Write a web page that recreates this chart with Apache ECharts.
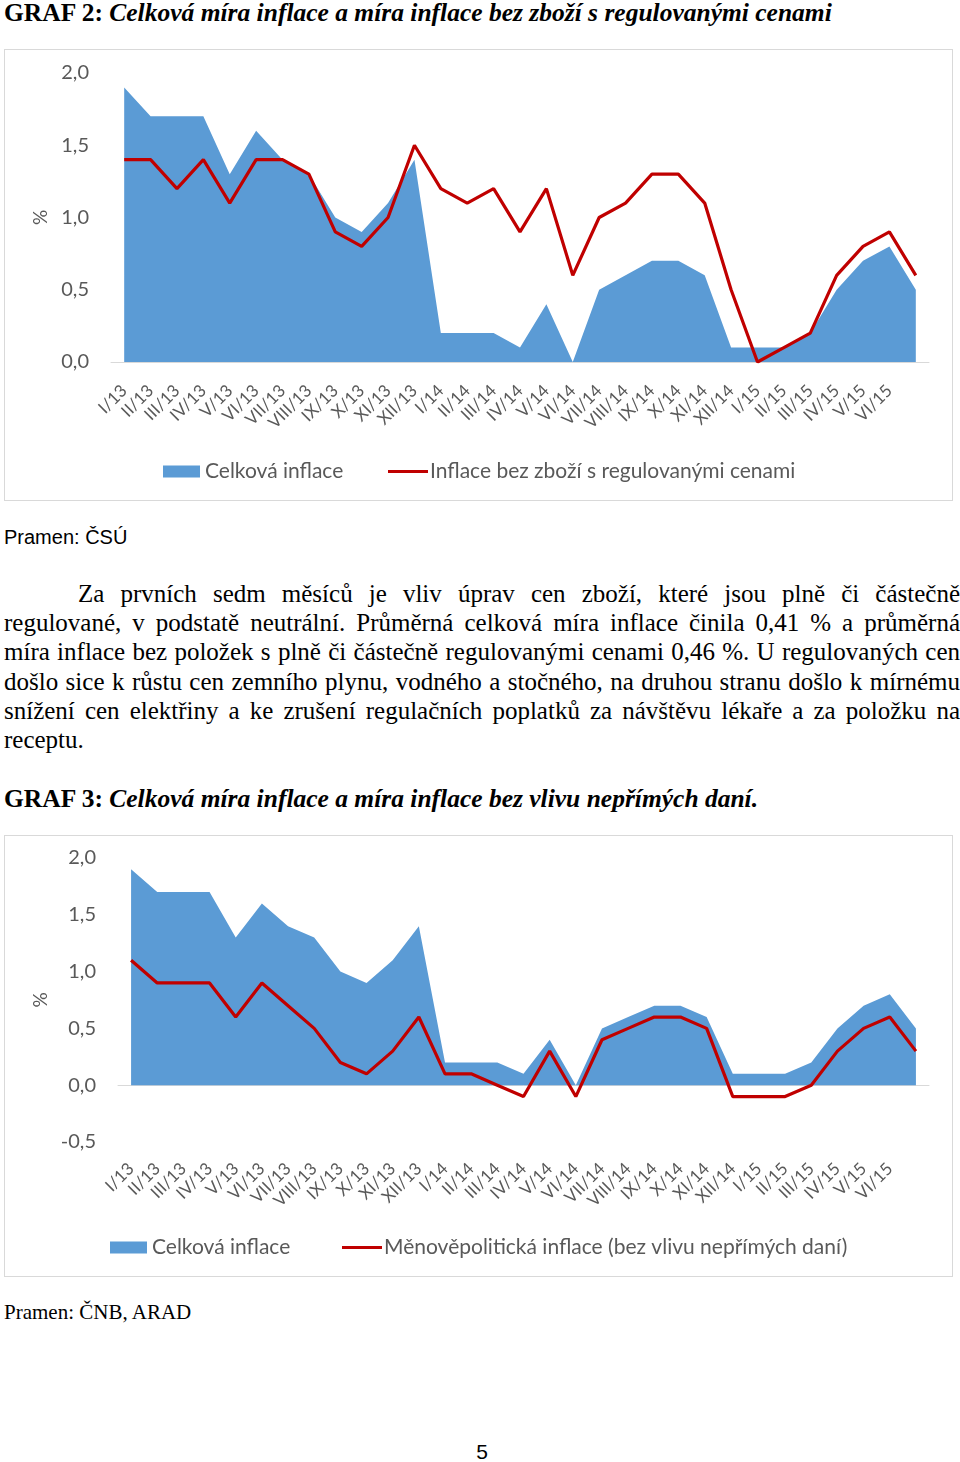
<!DOCTYPE html>
<html>
<head>
<meta charset="utf-8">
<script src="https://cdn.jsdelivr.net/npm/echarts@6/dist/echarts.min.js"></script>
<style>
  html, body { margin: 0; padding: 0; background: #fff; }
  #page { position: relative; width: 960px; height: 1462px; overflow: hidden; background: #fff; }
  .title { position: absolute; left: 4px; font-family: "Liberation Serif", "Times New Roman", serif; font-size: 25.5px; font-weight: bold; white-space: nowrap; color: #000; }
  .title i { font-weight: bold; }
  .box { position: absolute; border: 1px solid #d9d9d9; box-sizing: border-box; }
  .chart { position: absolute; left: 0; top: 0; }
  .src-sans { position: absolute; left: 4px; font-family: "Liberation Sans", Arial, sans-serif; font-size: 20px; color: #000; white-space: nowrap; }
  .src-serif { position: absolute; left: 4px; font-family: "Liberation Serif", "Times New Roman", serif; font-size: 21px; color: #000; white-space: nowrap; }
  .para { position: absolute; left: 4px; width: 956px; font-family: "Liberation Serif", "Times New Roman", serif; font-size: 25px; color: #000; }
  .para div { height: 29.2px; line-height: 29.2px; white-space: nowrap; text-align: justify; text-align-last: justify; }
  .para div.last { text-align-last: left; }
  .pnum { position: absolute; left: 0; width: 964px; text-align: center; font-family: "Liberation Sans", Arial, sans-serif; font-size: 21px; color: #000; }
</style>
</head>
<body>
<div id="page">
  <div class="title" style="top:-2px;">GRAF 2: <i>Celková míra inflace a míra inflace bez zboží s regulovanými cenami</i></div>
  <div class="box" style="left:4px; top:49px; width:949px; height:452px;">
    <div id="c1" class="chart" style="width:947px; height:450px;"></div>
  </div>
  <div class="src-sans" style="top:526px;">Pramen: ČSÚ</div>
  <div class="para" style="top:579px;">
    <div style="padding-left:74px;">Za prvních sedm měsíců je vliv úprav cen zboží, které jsou plně či částečně</div>
    <div>regulované, v podstatě neutrální. Průměrná celková míra inflace činila 0,41 % a průměrná</div>
    <div>míra inflace bez položek s plně či částečně regulovanými cenami 0,46 %. U regulovaných cen</div>
    <div>došlo sice k růstu cen zemního plynu, vodného a stočného, na druhou stranu došlo k mírnému</div>
    <div>snížení cen elektřiny a ke zrušení regulačních poplatků za návštěvu lékaře a za položku na</div>
    <div class="last">receptu.</div>
  </div>
  <div class="title" style="top:784px;">GRAF 3: <i>Celková míra inflace a míra inflace bez vlivu nepřímých daní.</i></div>
  <div class="box" style="left:4px; top:835px; width:949px; height:442px;">
    <div id="c2" class="chart" style="width:947px; height:440px;"></div>
  </div>
  <div class="src-serif" style="top:1300px;">Pramen: ČNB, ARAD</div>
  <div class="pnum" style="top:1440px;">5</div>
</div>
<script>
// Categories (months). The last month (VII/15) carries no label in the reference.
const categories = ['I/13','II/13','III/13','IV/13','V/13','VI/13','VII/13','VIII/13','IX/13','X/13','XI/13','XII/13',
  'I/14','II/14','III/14','IV/14','V/14','VI/14','VII/14','VIII/14','IX/14','X/14','XI/14','XII/14',
  'I/15','II/15','III/15','IV/15','V/15','VI/15',''];

// Celková inflace (both charts)
const celkovaInflace = [1.9,1.7,1.7,1.7,1.3,1.6,1.4,1.3,1.0,0.9,1.1,1.4,
  0.2,0.2,0.2,0.1,0.4,0.0,0.5,0.6,0.7,0.7,0.6,0.1,
  0.1,0.1,0.2,0.5,0.7,0.8,0.5];

// Inflace bez zboží s regulovanými cenami (GRAF 2)
const inflaceBezRegulovanych = [1.4,1.4,1.2,1.4,1.1,1.4,1.4,1.3,0.9,0.8,1.0,1.5,
  1.2,1.1,1.2,0.9,1.2,0.6,1.0,1.1,1.3,1.3,1.1,0.5,
  0.0,0.1,0.2,0.6,0.8,0.9,0.6];

// Měnověpolitická inflace (bez vlivu nepřímých daní) (GRAF 3)
const menovepolitickaInflace = [1.1,0.9,0.9,0.9,0.6,0.9,0.7,0.5,0.2,0.1,0.3,0.6,
  0.1,0.1,0.0,-0.1,0.3,-0.1,0.4,0.5,0.6,0.6,0.5,-0.1,
  -0.1,-0.1,0.0,0.3,0.5,0.6,0.3];

const yTicks1 = { min: 0, max: 2, interval: 0.5 };
const yTicks2 = { min: -0.5, max: 2, interval: 0.5 };

const BLUE = '#5b9bd5', RED = '#c00000', GRAY = '#595959', FONT = 'Lato';

function makeOption(cfg) {
  return {
    animation: false,
    textStyle: { fontFamily: FONT },
    grid: { left: cfg.gridLeft, top: cfg.gridTop, width: cfg.gridWidth, height: cfg.gridHeight },
    xAxis: {
      type: 'category', data: categories, boundaryGap: true,
      axisLine: { show: true, onZero: true, lineStyle: { color: '#d9d9d9', width: 1 } },
      axisTick: { show: false },
      axisLabel: { interval: 0, rotate: 45, color: GRAY, fontSize: 17, fontFamily: FONT, margin: cfg.xLabelMargin }
    },
    yAxis: {
      type: 'value', min: cfg.ticks.min, max: cfg.ticks.max, interval: cfg.ticks.interval,
      name: '%', nameLocation: 'middle', nameRotate: 90, nameGap: cfg.nameGap,
      nameTextStyle: { color: GRAY, fontSize: 19, fontFamily: FONT },
      axisLine: { show: false }, axisTick: { show: false }, splitLine: { show: false },
      axisLabel: { color: GRAY, fontSize: 20, fontFamily: FONT, margin: 22,
        formatter: v => v.toFixed(1).replace('.', ',') }
    },
    legend: [
      { data: [{ name: 'Celková inflace', icon: 'rect' }], left: cfg.leg1Left, top: cfg.legTop,
        itemWidth: 37, itemHeight: 12, itemGap: 0,
        textStyle: { color: GRAY, fontSize: 21, fontFamily: FONT, padding: [0, 0, 0, 0] } },
      { data: [{ name: cfg.lineName, icon: 'rect' }], left: cfg.leg2Left, top: cfg.legTop,
        itemWidth: 40, itemHeight: 3, itemGap: 0,
        textStyle: { color: GRAY, fontSize: 21, fontFamily: FONT, padding: [0, 0, 0, -3] } }
    ],
    series: [
      { name: 'Celková inflace', type: 'line', data: celkovaInflace, symbol: 'none',
        lineStyle: { width: 0, color: BLUE }, itemStyle: { color: BLUE },
        areaStyle: { color: BLUE, opacity: 1 }, z: 1 },
      { name: cfg.lineName, type: 'line', data: cfg.lineData, symbol: 'none',
        lineStyle: { width: 3.2, color: RED }, itemStyle: { color: RED }, z: 2 }
    ]
  };
}

const c1 = echarts.init(document.getElementById('c1'), null, { renderer: 'canvas' });
c1.setOption(makeOption({
  gridLeft: 106, gridTop: 23, gridWidth: 818, gridHeight: 289,
  ticks: yTicks1, nameGap: 59, xLabelMargin: 26,
  leg1Left: 153, leg2Left: 378, legTop: 406,
  lineName: 'Inflace bez zboží s regulovanými cenami', lineData: inflaceBezRegulovanych
}));

const c2 = echarts.init(document.getElementById('c2'), null, { renderer: 'canvas' });
c2.setOption(makeOption({
  gridLeft: 113, gridTop: 22, gridWidth: 811, gridHeight: 284,
  ticks: yTicks2, nameGap: 65, xLabelMargin: 24,
  leg1Left: 100, leg2Left: 332, legTop: 396,
  lineName: 'Měnověpolitická inflace (bez vlivu nepřímých daní)', lineData: menovepolitickaInflace
}));
</script>
</body>
</html>
